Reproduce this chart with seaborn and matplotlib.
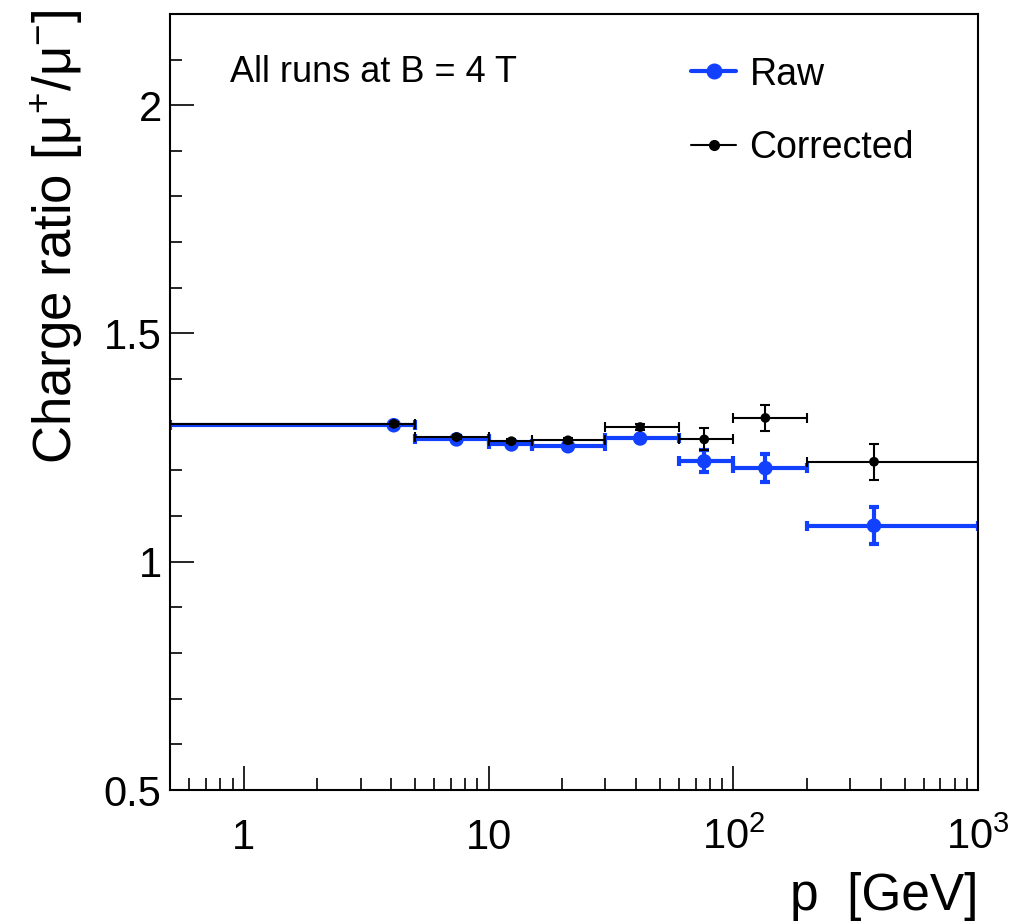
import numpy as np
import pandas as pd
import matplotlib
matplotlib.use("Agg")
import matplotlib.pyplot as plt
import matplotlib.ticker as mticker
from matplotlib.lines import Line2D
import seaborn as sns

# bins in momentum p [GeV]
bin_lo = [0.5, 5, 10, 15, 30, 60, 100, 200]
bin_hi = [5, 10, 15, 30, 60, 100, 200, 1000]
p_mean = [4.1, 7.4, 12.4, 21.1, 41.6, 76, 135, 375]

raw_ratio = [1.299, 1.268, 1.257, 1.253, 1.270, 1.220, 1.205, 1.079]
raw_err = [0.004, 0.004, 0.004, 0.005, 0.006, 0.024, 0.031, 0.040]
corr_ratio = [1.302, 1.273, 1.264, 1.266, 1.295, 1.268, 1.315, 1.219]
corr_err = [0.004, 0.004, 0.004, 0.005, 0.007, 0.024, 0.029, 0.039]

x_ticks = [1, 10, 100, 1000]
x_ticklabels = ["1", "10", "$10^{2}$", "$10^{3}$"]
y_ticks = [0.5, 1, 1.5, 2]

RAW_CLR = "#1240ff"
CORR_CLR = "#000000"

sns.set_theme(style="ticks")
plt.rcParams.update({
    "font.family": ["Liberation Sans", "DejaVu Sans"],
    "mathtext.fontset": "custom",
    "mathtext.rm": "Liberation Sans",
    "mathtext.it": "Liberation Sans:italic",
    "mathtext.default": "regular",
    "axes.linewidth": 1.5,
    "axes.edgecolor": "black",
    "text.color": "black",
    "axes.labelcolor": "black",
    "xtick.color": "black",
    "ytick.color": "black",
})

df = pd.DataFrame({
    "p": p_mean * 2,
    "ratio": raw_ratio + corr_ratio,
    "err": raw_err + corr_err,
    "lo": bin_lo * 2,
    "hi": bin_hi * 2,
    "series": ["Raw"] * len(p_mean) + ["Corrected"] * len(p_mean),
})

fig = plt.figure(figsize=(10.18, 9.24), dpi=100)
ax = fig.add_axes([0.167, 0.145, 0.794, 0.840])

styles = {
    "Raw": dict(color=RAW_CLR, lw=3.0, ms=10.5, z=2),
    "Corrected": dict(color=CORR_CLR, lw=1.5, ms=7.0, z=3),
}

for name in ["Raw", "Corrected"]:
    sub = df[df["series"] == name]
    st = styles[name]
    xerr = np.vstack([sub["p"] - sub["lo"], sub["hi"] - sub["p"]])
    ax.errorbar(sub["p"], sub["ratio"], xerr=xerr, yerr=sub["err"],
                fmt="none", ecolor=st["color"], elinewidth=st["lw"],
                capsize=3.5, capthick=st["lw"], zorder=st["z"])
    sns.scatterplot(data=sub, x="p", y="ratio", color=st["color"],
                    s=st["ms"] ** 2, edgecolor="none", ax=ax,
                    zorder=st["z"] + 0.5, legend=False)

ax.set_xscale("log")
ax.set_xlim(0.5, 1000)
ax.set_ylim(0.5, 2.2)

ax.xaxis.set_major_locator(mticker.FixedLocator(x_ticks))
ax.xaxis.set_major_formatter(mticker.FixedFormatter(x_ticklabels))
ax.xaxis.set_minor_locator(mticker.LogLocator(base=10, subs=np.arange(2, 10)))
ax.xaxis.set_minor_formatter(mticker.NullFormatter())
ax.yaxis.set_major_locator(mticker.FixedLocator(y_ticks))
ax.yaxis.set_major_formatter(mticker.FuncFormatter(lambda v, _: f"{v:g}"))
ax.yaxis.set_minor_locator(mticker.MultipleLocator(0.1))

ax.tick_params(which="both", direction="in", top=False, right=False,
               colors="black", width=1.2)
ax.tick_params(which="major", length=17)
ax.tick_params(which="minor", length=8.5)
ax.tick_params(axis="x", which="major", labelsize=30, pad=20)
ax.tick_params(axis="y", which="major", labelsize=30, pad=6)

ax.set_xlabel("p  [GeV]", fontsize=37, loc="right")
ax.set_ylabel("Charge ratio [μ$^{+}$/μ$^{-}$]", fontsize=38, loc="top")
ax.xaxis.set_label_coords(1.0, -0.106)
ax.yaxis.set_label_coords(-0.105, 1.006)

ax.text(0.074, 0.925, "All runs at B = 4 T", transform=ax.transAxes,
        fontsize=26, va="center", ha="left")

handles = [
    Line2D([], [], color=RAW_CLR, lw=3.0, marker="o", ms=10.5),
    Line2D([], [], color=CORR_CLR, lw=1.5, marker="o", ms=7.0),
]
ax.legend(handles, ["Raw", "Corrected"], loc="upper left",
          bbox_to_anchor=(0.645, 0.945), frameon=False, fontsize=27,
          handlelength=1.2, handletextpad=0.35, labelspacing=1.0,
          borderpad=0, borderaxespad=0)

fig.savefig("out.png", dpi=100, facecolor="white")
